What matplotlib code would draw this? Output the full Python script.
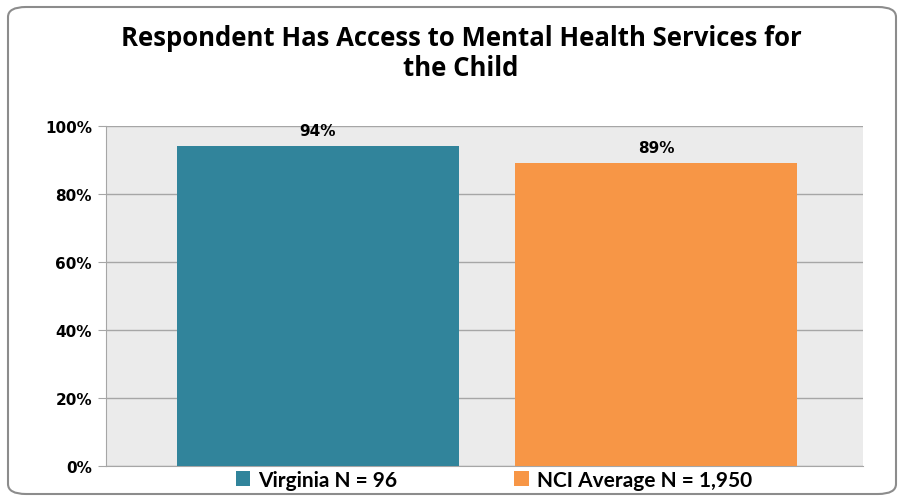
import matplotlib
matplotlib.use("Agg")
import matplotlib.pyplot as plt
from matplotlib.patches import FancyBboxPatch, Patch

categories = ["Virginia N = 96", "NCI Average N = 1,950"]
values = [94, 89]
labels = ["94%", "89%"]
colors = ["#31849B", "#F79646"]
yticks = [0, 20, 40, 60, 80, 100]
ytick_labels = ["0%", "20%", "40%", "60%", "80%", "100%"]

W, H = 901, 502
fig = plt.figure(figsize=(W/100, H/100), dpi=100)
fig.patch.set_facecolor("white")

# rounded border
border = FancyBboxPatch((8/W, 7/H), (896-8)/W, (494-7)/H,
                        boxstyle="round,pad=0,rounding_size=0.02",
                        transform=fig.transFigure, fill=False,
                        edgecolor="#8C8C8C", linewidth=1.5)
fig.patches.append(border)

ax = fig.add_axes([106/W, 1-467/H, (863-106)/W, (467-127)/H])
ax.set_facecolor("#EBEBEB")
x = [0, 1]
bars = ax.bar(x, values, width=0.835, color=colors, zorder=3)
ax.set_xlim(-0.627, 1.612)
ax.set_ylim(0, 100)
ax.set_yticks(yticks)
ax.set_yticklabels(ytick_labels, fontsize=11, fontweight="bold", family="DejaVu Sans")
ax.set_xticks([])
ax.grid(axis="y", color="#A6A6A6", linewidth=1, zorder=0)
for s in ["top", "right"]:
    ax.spines[s].set_visible(False)
ax.spines["left"].set_color("#A6A6A6")
ax.spines["bottom"].set_color("#A6A6A6")
ax.tick_params(axis="y", length=6, color="#A6A6A6", pad=4)

for xi, v, lab in zip(x, values, labels):
    ax.text(xi, v + 2.5, lab, ha="center", va="bottom", fontsize=11,
            fontweight="bold", family="DejaVu Sans")

fig.text(461/W, 1-38/H, "Respondent Has Access to Mental Health Services for",
         ha="center", va="center", fontsize=18.5, fontweight="bold", family="Open Sans")
fig.text(461/W, 1-69/H, "the Child", ha="center", va="center", fontsize=18.5,
         fontweight="bold", family="Open Sans")

handles = [Patch(facecolor=c) for c in colors]
leg = fig.legend(handles, categories, loc="center", bbox_to_anchor=(494/W, 1-481/H),
                 ncol=2, frameon=False, handlelength=0.7, handleheight=0.7,
                 handletextpad=0.4, columnspacing=5.6,
                 prop={"family": "Lato", "weight": "bold", "size": 15})

fig.savefig("out.png", dpi=100)
